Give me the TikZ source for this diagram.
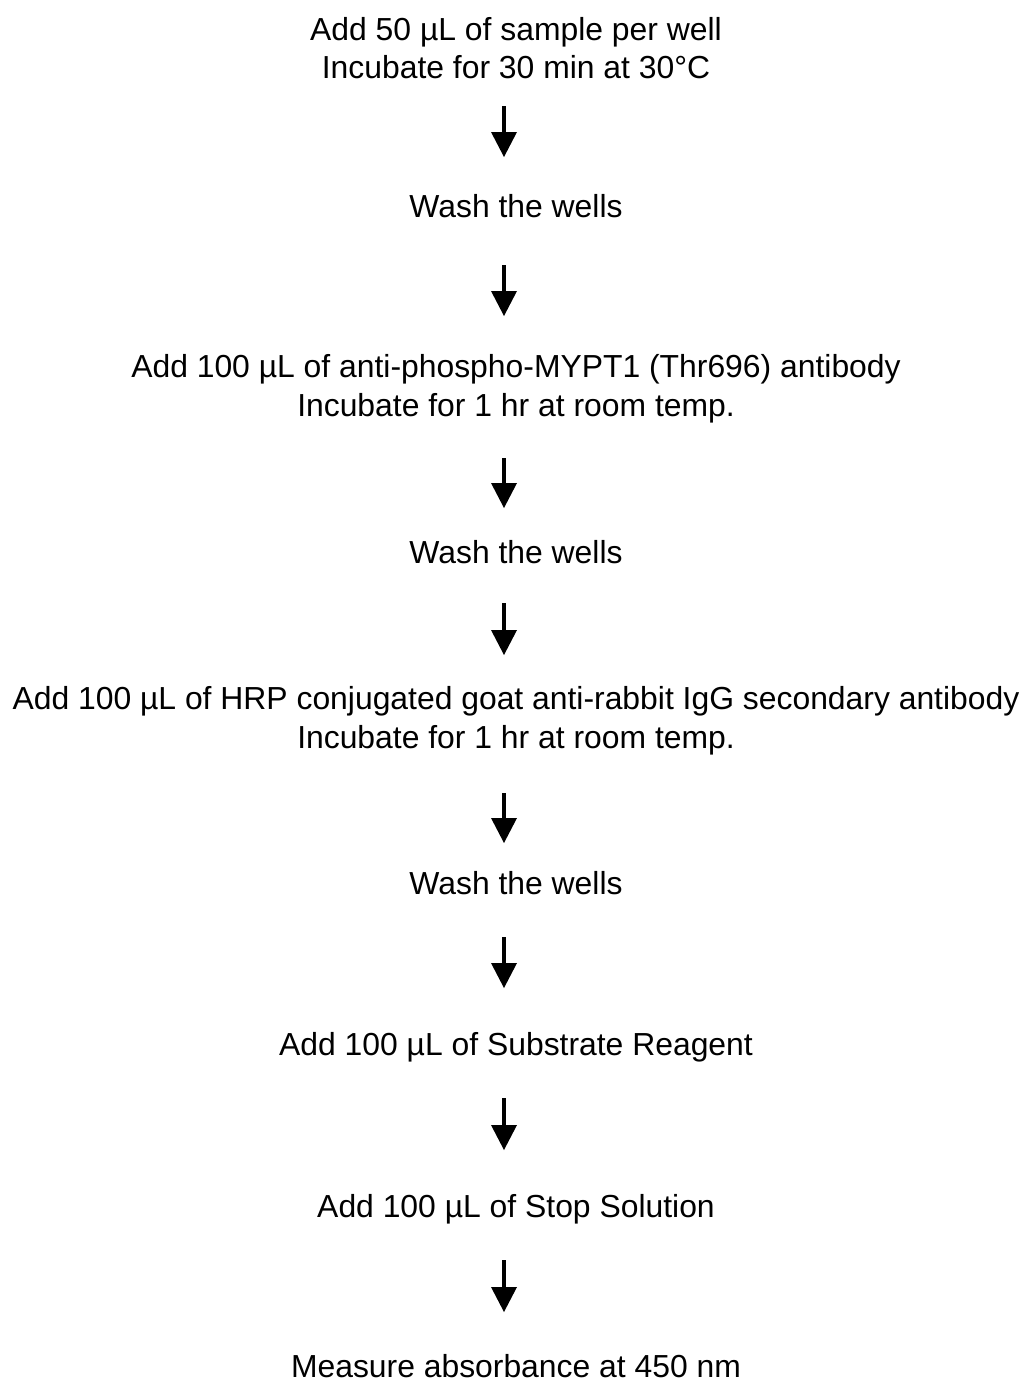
\documentclass[tikz,border=0pt]{standalone}
\usepackage{fontspec}
\setmainfont{Liberation Sans}
\usetikzlibrary{arrows.meta}

\tikzset{
    steptext/.style={inner sep=0pt, align=center, font=\fontsize{23.9}{29}\selectfont},
    flow/.style={line width=3pt, -{Triangle[width=19.5pt,length=18.75pt,line width=0pt]}},
    gap/.style 2 args={shorten <=#1, shorten >=#2}
}

\begin{document}
\begin{tikzpicture}[x=0.75pt,y=0.75pt,yscale=-1,xscale=1]
    \useasboundingbox (0,0) rectangle (1028,1385);

    % Text Node
    \draw (516,48) node [steptext] (sample) {Add 50 µL of sample per well\\Incubate for 30 min at 30°C};
    % Text Node
    \draw (516,206) node [steptext] (washa) {Wash the wells};
    % Text Node
    \draw (516,389) node [steptext] (primary) {Add 100 µL of anti-phospho-MYPT1 (Thr696) antibody\\Incubate for 1 hr at room temp.};
    % Text Node
    \draw (516,552) node [steptext] (washb) {Wash the wells};
    % Text Node
    \draw (516,721) node [steptext] (secondary) {Add 100 µL of HRP conjugated goat anti-rabbit IgG secondary antibody\\Incubate for 1 hr at room temp.};
    % Text Node
    \draw (516,883) node [steptext] (washc) {Wash the wells};
    % Text Node
    \draw (516,1047) node [steptext] (substrate) {Add 100 µL of Substrate Reagent};
    % Text Node
    \draw (516,1209) node [steptext] (stop) {Add 100 µL of Stop Solution};
    % Text Node
    \draw (516,1366) node [steptext] (measure) {Measure absorbance at 450 nm};

    % Arrows
    \draw [flow, gap={43.5pt}{36.75pt}] ([xshift=-9pt]sample.center) -- ([xshift=-9pt]washa.center);
    \draw [flow, gap={44.25pt}{54.75pt}] ([xshift=-9pt]washa.center) -- ([xshift=-9pt]primary.center);
    \draw [flow, gap={51.75pt}{33pt}] ([xshift=-9pt]primary.center) -- ([xshift=-9pt]washb.center);
    \draw [flow, gap={38.25pt}{49.5pt}] ([xshift=-9pt]washb.center) -- ([xshift=-9pt]secondary.center);
    \draw [flow, gap={54pt}{30pt}] ([xshift=-9pt]secondary.center) -- ([xshift=-9pt]washc.center);
    \draw [flow, gap={40.5pt}{44.25pt}] ([xshift=-9pt]washc.center) -- ([xshift=-9pt]substrate.center);
    \draw [flow, gap={38.25pt}{44.25pt}] ([xshift=-9pt]substrate.center) -- ([xshift=-9pt]stop.center);
    \draw [flow, gap={38.25pt}{40.5pt}] ([xshift=-9pt]stop.center) -- ([xshift=-9pt]measure.center);

\end{tikzpicture}
\end{document}
